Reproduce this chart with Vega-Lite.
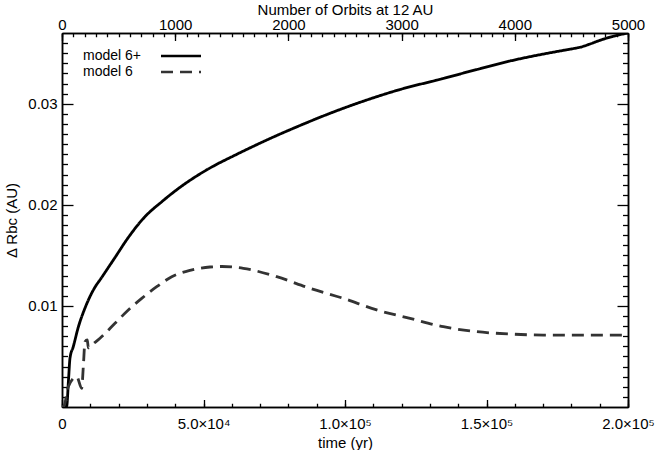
{
  "$schema": "https://vega.github.io/schema/vega-lite/v6.json",
  "width": 566,
  "height": 374,
  "autosize": {"type": "none"},
  "padding": {"left": 62, "top": 33, "right": 29, "bottom": 43},
  "background": "white",
  "config": {
    "view": {"stroke": null},
    "font": "Liberation Sans",
    "axis": {
      "grid": false,
      "domainColor": "black",
      "domainWidth": 1.5,
      "tickColor": "black",
      "tickWidth": 1.3,
      "labelFont": "Liberation Sans",
      "labelFontSize": 15,
      "labelColor": "black",
      "labelFlush": false,
      "labelOverlap": false,
      "titleFont": "Liberation Sans",
      "titleFontSize": 15,
      "titleFontWeight": "normal",
      "titleColor": "black"
    },
    "legend": {
      "orient": "none",
      "legendX": 20,
      "legendY": 16,
      "symbolType": "M-4,0H4",
      "symbolSize": 100,
      "symbolStrokeWidth": 2.5,
      "labelFont": "Liberation Sans",
      "labelFontSize": 14,
      "labelColor": "black",
      "symbolOffset": 92,
      "labelOffset": -105,
      "rowPadding": 2
    }
  },
  "data": {
    "values": [
      {"t": 0, "v": 0, "model": "model 6+"},
      {"t": 1660, "v": 0.0001, "model": "model 6+"},
      {"t": 2300, "v": 0.0027, "model": "model 6+"},
      {"t": 2830, "v": 0.00485, "model": "model 6+"},
      {"t": 3990, "v": 0.00597, "model": "model 6+"},
      {"t": 5760, "v": 0.0079, "model": "model 6+"},
      {"t": 8130, "v": 0.00979, "model": "model 6+"},
      {"t": 11060, "v": 0.01157, "model": "model 6+"},
      {"t": 14130, "v": 0.01286, "model": "model 6+"},
      {"t": 18730, "v": 0.01479, "model": "model 6+"},
      {"t": 23430, "v": 0.01677, "model": "model 6+"},
      {"t": 29330, "v": 0.01883, "model": "model 6+"},
      {"t": 35230, "v": 0.0203, "model": "model 6+"},
      {"t": 41100, "v": 0.02161, "model": "model 6+"},
      {"t": 47000, "v": 0.02275, "model": "model 6+"},
      {"t": 52900, "v": 0.02374, "model": "model 6+"},
      {"t": 60540, "v": 0.02483, "model": "model 6+"},
      {"t": 72340, "v": 0.02641, "model": "model 6+"},
      {"t": 84110, "v": 0.02785, "model": "model 6+"},
      {"t": 95880, "v": 0.02918, "model": "model 6+"},
      {"t": 107690, "v": 0.03037, "model": "model 6+"},
      {"t": 119450, "v": 0.03141, "model": "model 6+"},
      {"t": 134750, "v": 0.0325, "model": "model 6+"},
      {"t": 146540, "v": 0.03339, "model": "model 6+"},
      {"t": 158320, "v": 0.03423, "model": "model 6+"},
      {"t": 170100, "v": 0.03492, "model": "model 6+"},
      {"t": 178350, "v": 0.03534, "model": "model 6+"},
      {"t": 181270, "v": 0.03549, "model": "model 6+"},
      {"t": 183040, "v": 0.03559, "model": "model 6+"},
      {"t": 186570, "v": 0.03591, "model": "model 6+"},
      {"t": 188940, "v": 0.03616, "model": "model 6+"},
      {"t": 194810, "v": 0.03668, "model": "model 6+"},
      {"t": 200000, "v": 0.037, "model": "model 6+"},
      {"t": 0, "v": 0, "model": "model 6"},
      {"t": 700, "v": 0.0001, "model": "model 6"},
      {"t": 2230, "v": 0.002, "model": "model 6"},
      {"t": 5190, "v": 0.003, "model": "model 6"},
      {"t": 6960, "v": 0.00185, "model": "model 6"},
      {"t": 7530, "v": 0.004, "model": "model 6"},
      {"t": 8130, "v": 0.00646, "model": "model 6"},
      {"t": 8940, "v": 0.00663, "model": "model 6"},
      {"t": 9300, "v": 0.00584, "model": "model 6"},
      {"t": 10500, "v": 0.00613, "model": "model 6"},
      {"t": 13430, "v": 0.0068, "model": "model 6"},
      {"t": 18730, "v": 0.00828, "model": "model 6"},
      {"t": 23430, "v": 0.0096, "model": "model 6"},
      {"t": 28170, "v": 0.01075, "model": "model 6"},
      {"t": 33470, "v": 0.0119, "model": "model 6"},
      {"t": 38770, "v": 0.01289, "model": "model 6"},
      {"t": 45240, "v": 0.01352, "model": "model 6"},
      {"t": 52300, "v": 0.01385, "model": "model 6"},
      {"t": 56500, "v": 0.0139, "model": "model 6"},
      {"t": 64070, "v": 0.01372, "model": "model 6"},
      {"t": 75870, "v": 0.01289, "model": "model 6"},
      {"t": 87640, "v": 0.01174, "model": "model 6"},
      {"t": 99410, "v": 0.01075, "model": "model 6"},
      {"t": 111210, "v": 0.0096, "model": "model 6"},
      {"t": 122980, "v": 0.00877, "model": "model 6"},
      {"t": 134750, "v": 0.00794, "model": "model 6"},
      {"t": 146540, "v": 0.00745, "model": "model 6"},
      {"t": 158320, "v": 0.00722, "model": "model 6"},
      {"t": 170100, "v": 0.00712, "model": "model 6"},
      {"t": 185000, "v": 0.00712, "model": "model 6"},
      {"t": 200000, "v": 0.00712, "model": "model 6"}
    ]
  },
  "layer": [
    {
      "mark": {"type": "line", "strokeWidth": 2.8, "interpolate": "monotone", "clip": true},
      "encoding": {
        "x": {
          "field": "t", "type": "quantitative",
          "scale": {"domain": [0, 200000], "nice": false, "zero": false},
          "axis": {
            "orient": "bottom",
            "values": [0, 50000, 100000, 150000, 200000],
            "labelExpr": "datum.value == 0 ? '0' : datum.value == 50000 ? '5.0×10⁴' : datum.value == 100000 ? '1.0×10⁵' : datum.value == 150000 ? '1.5×10⁵' : '2.0×10⁵'",
            "tickSize": -7.5,
            "labelPadding": 17,
            "title": "time (yr)",
            "titlePadding": 4
          }
        },
        "y": {
          "field": "v", "type": "quantitative",
          "scale": {"domain": [0, 0.037], "nice": false, "zero": false},
          "axis": {
            "orient": "left",
            "values": [0.01, 0.02, 0.03],
            "format": ".2f",
            "tickSize": -11,
            "labelPadding": 16,
            "title": "Δ Rbc (AU)",
            "titlePadding": 8
          }
        },
        "color": {
          "field": "model", "type": "nominal",
          "scale": {"domain": ["model 6+", "model 6"], "range": ["#000000", "#333333"]},
          "legend": {"title": null}
        },
        "strokeDash": {
          "field": "model", "type": "nominal",
          "scale": {"domain": ["model 6+", "model 6"], "range": [[1, 0], [12, 7]]},
          "legend": {"title": null}
        }
      }
    },
    {
      "mark": {"type": "point", "opacity": 0},
      "encoding": {
        "x": {
          "field": "t", "type": "quantitative",
          "axis": {
            "orient": "bottom",
            "values": [0, 10000, 20000, 30000, 40000, 50000, 60000, 70000, 80000, 90000, 100000, 110000, 120000, 130000, 140000, 150000, 160000, 170000, 180000, 190000, 200000],
            "labels": false,
            "tickSize": -3.75,
            "title": null
          }
        },
        "y": {
          "field": "v", "type": "quantitative",
          "axis": {
            "orient": "left",
            "values": [0.001, 0.002, 0.003, 0.004, 0.005, 0.006, 0.007, 0.008, 0.009, 0.011, 0.012, 0.013, 0.014, 0.015, 0.016, 0.017, 0.018, 0.019, 0.021, 0.022, 0.023, 0.024, 0.025, 0.026, 0.027, 0.028, 0.029, 0.031, 0.032, 0.033, 0.034, 0.035, 0.036],
            "labels": false,
            "tickSize": -5.5,
            "title": null
          }
        }
      }
    },
    {
      "mark": {"type": "point", "opacity": 0},
      "encoding": {
        "x": {
          "field": "t", "type": "quantitative",
          "axis": {
            "orient": "top",
            "values": [0, 40000, 80000, 120000, 160000, 200000],
            "labelExpr": "format(datum.value / 40, 'd')",
            "tickSize": -7.5,
            "labelPadding": 8,
            "title": "Number of Orbits at 12 AU",
            "titlePadding": 0
          }
        },
        "y": {
          "field": "v", "type": "quantitative",
          "axis": {
            "orient": "right",
            "values": [0.01, 0.02, 0.03],
            "labels": false,
            "tickSize": -11,
            "title": null
          }
        }
      }
    },
    {
      "mark": {"type": "point", "opacity": 0},
      "encoding": {
        "x": {
          "field": "t", "type": "quantitative",
          "axis": {
            "orient": "top",
            "values": [0, 4000, 8000, 12000, 16000, 20000, 24000, 28000, 32000, 36000, 40000, 44000, 48000, 52000, 56000, 60000, 64000, 68000, 72000, 76000, 80000, 84000, 88000, 92000, 96000, 100000, 104000, 108000, 112000, 116000, 120000, 124000, 128000, 132000, 136000, 140000, 144000, 148000, 152000, 156000, 160000, 164000, 168000, 172000, 176000, 180000, 184000, 188000, 192000, 196000, 200000],
            "labels": false,
            "tickSize": -3.75,
            "title": null
          }
        },
        "y": {
          "field": "v", "type": "quantitative",
          "axis": {
            "orient": "right",
            "values": [0.001, 0.002, 0.003, 0.004, 0.005, 0.006, 0.007, 0.008, 0.009, 0.011, 0.012, 0.013, 0.014, 0.015, 0.016, 0.017, 0.018, 0.019, 0.021, 0.022, 0.023, 0.024, 0.025, 0.026, 0.027, 0.028, 0.029, 0.031, 0.032, 0.033, 0.034, 0.035, 0.036],
            "labels": false,
            "tickSize": -5.5,
            "title": null
          }
        }
      }
    }
  ],
  "resolve": {"axis": {"x": "independent", "y": "independent"}}
}
